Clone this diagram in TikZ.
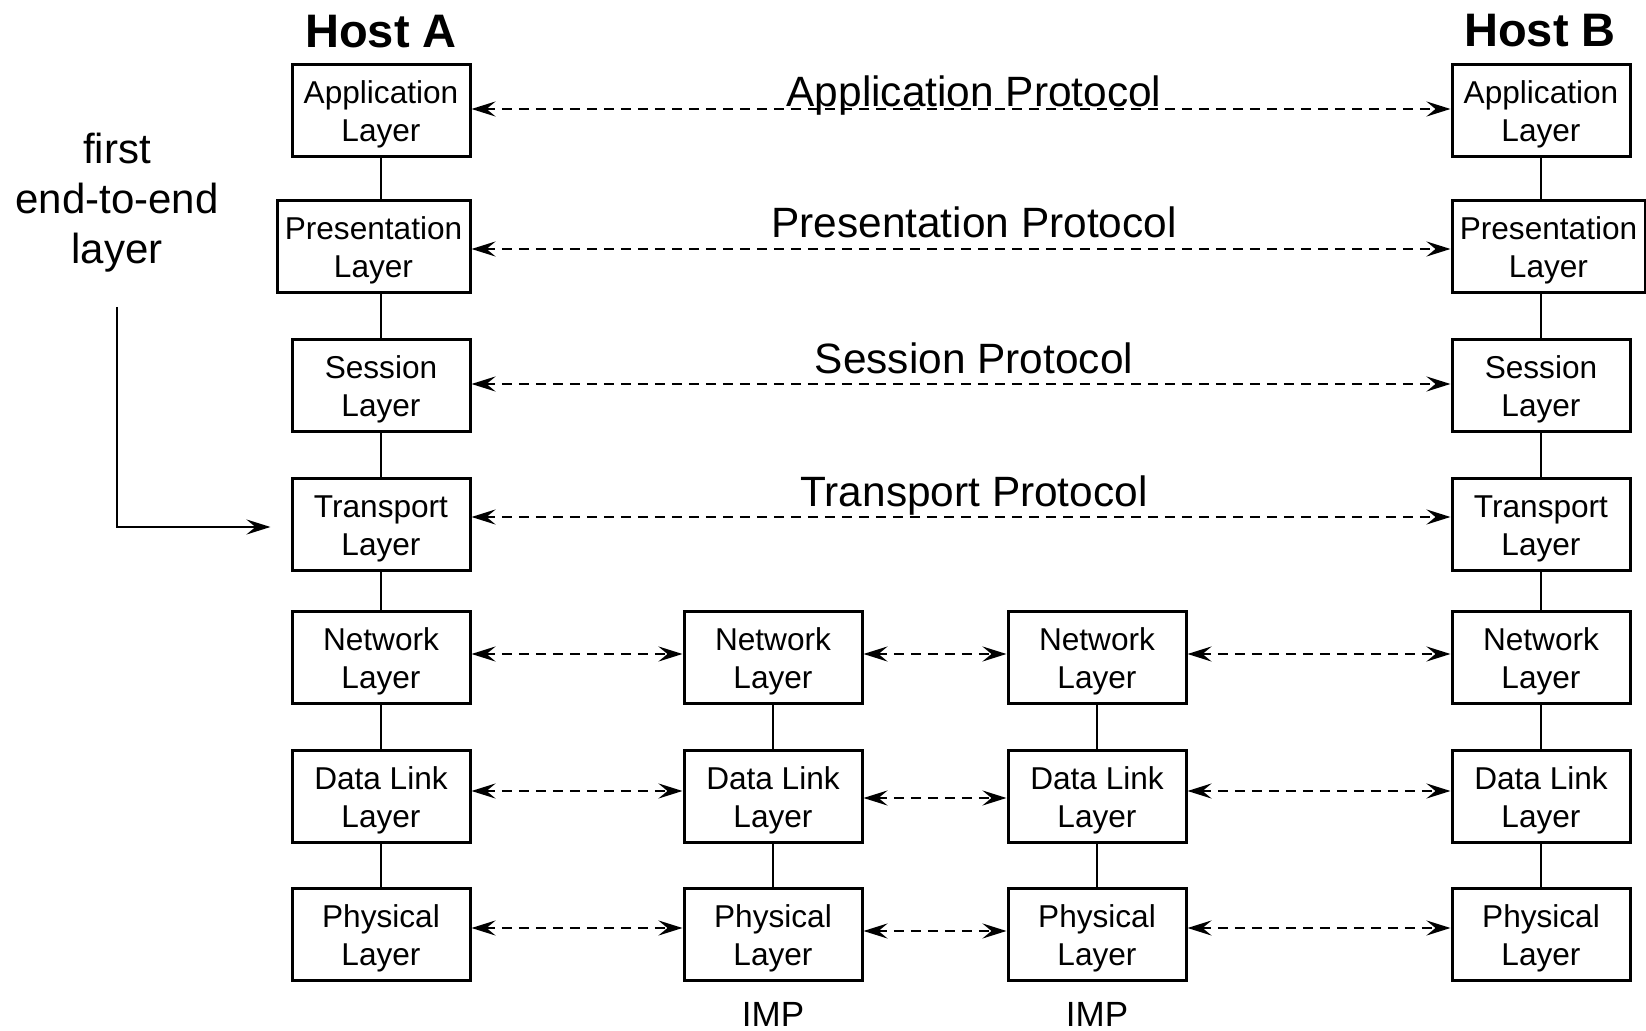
\documentclass[tikz,border=0pt]{standalone}
\usepackage{fontspec}
\setmainfont{Liberation Sans}
\usetikzlibrary{arrows.meta}

\tikzset{
  layerbox/.style={draw, line width=1.5pt, minimum width=89pt, minimum height=46pt,
    inner sep=0pt, align=center, font=\fontsize{15.8}{19}\selectfont,
    text height=34.3pt, text depth=3.3pt},
  widebox/.style={layerbox, minimum width=96.5pt},
  peertip/.tip={Stealth[length=12pt,width=7.5pt,inset=4.5pt]},
  peer/.style={line width=1.45pt, dash pattern=on 5pt off 3.5pt, peertip-peertip},
  stack/.style={line width=1.45pt},
  protolabel/.style={font=\fontsize{21.2}{26}\selectfont, anchor=base, inner sep=0pt},
  hostlabel/.style={font=\bfseries\fontsize{23.5}{28}\selectfont, anchor=base, inner sep=0pt},
  implabel/.style={font=\fontsize{17.5}{21}\selectfont, anchor=base, inner sep=0pt}
}

\begin{document}
\begin{tikzpicture}[x=0.5pt, y=-0.5pt]
\useasboundingbox (0,0) rectangle (1646,1031);

% host headings
\node[hostlabel] (hostA) at (381,48) {Host A};
\node[hostlabel] (hostB) at (1540,47) {Host B};

% host A stack
\node[layerbox] (appA)   at (381,111)   {Application\\Layer};
\node[widebox]  (presA)  at (373.5,247) {Presentation\\Layer};
\node[layerbox] (sesA)   at (381,386)   {Session\\Layer};
\node[layerbox] (trA)    at (381,525)   {Transport\\Layer};
\node[layerbox] (netA)   at (381,657.5) {Network\\Layer};
\node[layerbox] (dlA)    at (381,796.5) {Data Link\\Layer};
\node[layerbox] (phA)    at (381,934.5) {Physical\\Layer};

% first IMP
\node[layerbox] (netI)   at (773,657.5) {Network\\Layer};
\node[layerbox] (dlI)    at (773,796.5) {Data Link\\Layer};
\node[layerbox] (phI)    at (773,934.5) {Physical\\Layer};

% second IMP
\node[layerbox] (netJ)   at (1097,657.5) {Network\\Layer};
\node[layerbox] (dlJ)    at (1097,796.5) {Data Link\\Layer};
\node[layerbox] (phJ)    at (1097,934.5) {Physical\\Layer};

% host B stack
\node[layerbox] (appB)   at (1541,111)   {Application\\Layer};
\node[widebox]  (presB)  at (1548.5,247) {Presentation\\Layer};
\node[layerbox] (sesB)   at (1541,386)   {Session\\Layer};
\node[layerbox] (trB)    at (1541,525)   {Transport\\Layer};
\node[layerbox] (netB)   at (1541,657.5) {Network\\Layer};
\node[layerbox] (dlB)    at (1541,796.5) {Data Link\\Layer};
\node[layerbox] (phB)    at (1541,934.5) {Physical\\Layer};

% IMP captions
\node[implabel] (impI) at (773,1027) {IMP};
\node[implabel] (impJ) at (1097,1027) {IMP};

% vertical links inside each stack
\draw[stack] (appA.south) -- (appA.south |- presA.north);
\draw[stack] (appA.south |- presA.south) -- (sesA.north);
\draw[stack] (sesA.south) -- (trA.north);
\draw[stack] (trA.south) -- (netA.north);
\draw[stack] (netA.south) -- (dlA.north);
\draw[stack] (dlA.south) -- (phA.north);

\draw[stack] (netI.south) -- (dlI.north);
\draw[stack] (dlI.south) -- (phI.north);
\draw[stack] (netJ.south) -- (dlJ.north);
\draw[stack] (dlJ.south) -- (phJ.north);

\draw[stack] (appB.south) -- (appB.south |- presB.north);
\draw[stack] (appB.south |- presB.south) -- (sesB.north);
\draw[stack] (sesB.south) -- (trB.north);
\draw[stack] (trB.south) -- (netB.north);
\draw[stack] (netB.south) -- (dlB.north);
\draw[stack] (dlB.south) -- (phB.north);

% end-to-end peer protocols
\draw[peer] ([yshift=1pt]appA.east) -- ([yshift=1pt]appA.east -| appB.west);
\draw[peer] ([yshift=-1pt]presA.east) -- ([yshift=-1pt]presA.east -| presB.west);
\draw[peer] ([yshift=1pt]sesA.east) -- ([yshift=1pt]sesA.east -| sesB.west);
\draw[peer] ([yshift=4pt]trA.east) -- ([yshift=4pt]trA.east -| trB.west);

\node[protolabel] (lApp)  at (974,107) {Application Protocol};
\node[protolabel] (lPres) at (974,238) {Presentation Protocol};
\node[protolabel] (lSes)  at (974,374) {Session Protocol};
\node[protolabel] (lTr)   at (974,507) {Transport Protocol};

% hop-by-hop peer protocols
\draw[peer] ([yshift=1.75pt]netA.east) -- ([yshift=1.75pt]netA.east -| netI.west);
\draw[peer] ([yshift=1.75pt]netI.east) -- ([yshift=1.75pt]netI.east -| netJ.west);
\draw[peer] ([yshift=1.75pt]netJ.east) -- ([yshift=1.75pt]netJ.east -| netB.west);

\draw[peer] ([yshift=2.75pt]dlA.east) -- ([yshift=2.75pt]dlA.east -| dlI.west);
\draw[peer] ([yshift=-0.75pt]dlI.east) -- ([yshift=-0.75pt]dlI.east -| dlJ.west);
\draw[peer] ([yshift=2.75pt]dlJ.east) -- ([yshift=2.75pt]dlJ.east -| dlB.west);

\draw[peer] ([yshift=3.25pt]phA.east) -- ([yshift=3.25pt]phA.east -| phI.west);
\draw[peer] ([yshift=1.75pt]phI.east) -- ([yshift=1.75pt]phI.east -| phJ.west);
\draw[peer] ([yshift=3.25pt]phJ.east) -- ([yshift=3.25pt]phJ.east -| phB.west);

% marker for the first end-to-end layer
\node[font=\fontsize{21}{25}\selectfont, align=center, inner sep=0pt] (firstnote) at (117,202.5) {first\\end-to-end\\layer};
\coordinate (brk) at (117,307);
\draw[stack, -peertip] (brk) |- ([xshift=-10pt,yshift=-1pt]trA.west);
\end{tikzpicture}
\end{document}
